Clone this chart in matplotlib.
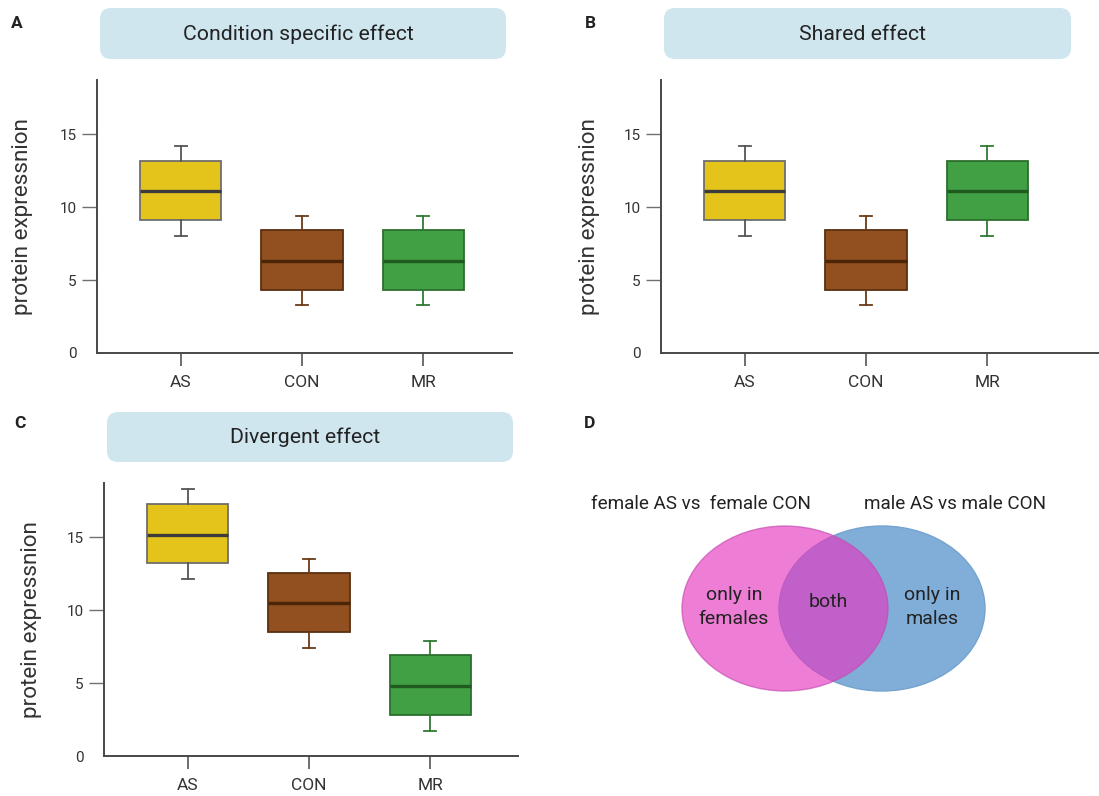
import matplotlib
matplotlib.use("Agg")
import matplotlib.pyplot as plt
from matplotlib.patches import FancyBboxPatch, Ellipse

plt.rcParams['font.family'] = ['Roboto', 'DejaVu Sans']

# data (summary stats)
groups = ['AS', 'CON', 'MR']

# A: condition specific effect
a_whislo = [8.0, 3.3, 3.3]
a_q1 = [9.1, 4.3, 4.3]
a_med = [11.1, 6.3, 6.3]
a_q3 = [13.15, 8.4, 8.4]
a_whishi = [14.2, 9.4, 9.4]

# B: shared effect
b_whislo = [8.0, 3.3, 8.0]
b_q1 = [9.1, 4.3, 9.1]
b_med = [11.1, 6.3, 11.1]
b_q3 = [13.15, 8.4, 13.15]
b_whishi = [14.2, 9.4, 14.2]

# C: divergent effect
c_whislo = [12.1, 7.4, 1.7]
c_q1 = [13.2, 8.5, 2.8]
c_med = [15.15, 10.5, 4.8]
c_q3 = [17.25, 12.55, 6.9]
c_whishi = [18.3, 13.5, 7.9]

yticks = [0, 5, 10, 15]

fills = ['#e4c31b', '#924f1f', '#41a043']
edges = ['#6e6e6e', '#5a2f10', '#2d6e2f']
whisk = ['#555555', '#6b3a16', '#2f7a31']
meds = ['#3c3c3c', '#4b2508', '#1f5a1f']

W, H = 1099, 796
fig = plt.figure(figsize=(W / 100, H / 100), dpi=100)

PX_PER_UNIT = 121.3  # x
YTOP = 18.7


def panel_axes(left, top, right, bottom):
    ax = fig.add_axes([left / W, 1 - bottom / H, (right - left) / W, (bottom - top) / H])
    ax.set_xlim(-0.69, -0.69 + (right - left) / PX_PER_UNIT)
    ax.set_ylim(0, YTOP)
    return ax


def draw_box(ax, whislo, q1, med, q3, whishi, label_x):
    stats = []
    for i in range(len(groups)):
        stats.append(dict(label=groups[i], whislo=whislo[i], q1=q1[i], med=med[i],
                          q3=q3[i], whishi=whishi[i], fliers=[]))
    art = ax.bxp(stats, positions=range(len(groups)), widths=0.67, capwidths=0.1,
                 patch_artist=True, showfliers=False)
    for i in range(len(groups)):
        art['boxes'][i].set(facecolor=fills[i], edgecolor=edges[i], linewidth=1.3)
        art['medians'][i].set(color=meds[i], linewidth=2.4)
        for ln in art['whiskers'][2 * i:2 * i + 2] + art['caps'][2 * i:2 * i + 2]:
            ln.set(color=whisk[i], linewidth=1.3)
    for s in ['top', 'right']:
        ax.spines[s].set_visible(False)
    for s in ['left', 'bottom']:
        ax.spines[s].set_color('#474747')
        ax.spines[s].set_linewidth(1.4)
    ax.set_yticks(yticks)
    ax.set_yticklabels([str(t) for t in yticks], fontsize=11, color='#333333')
    for lbl in ax.get_yticklabels():
        lbl.set_va('center_baseline')
    ax.tick_params(axis='y', length=11, width=1.0, color='#707070', pad=3.5)
    ax.tick_params(axis='x', length=9.5, width=1.1, color='#474747', pad=6.5, labelsize=12.5,
                   labelcolor='#333333')
    ax.yaxis.get_major_ticks()[0].tick1line.set_visible(False)
    ax.set_xticks(range(len(groups)))
    ax.set_xticklabels(groups)
    ax.set_ylabel('protein expressnion', fontsize=16.2, color='#333333')
    ax.yaxis.set_label_coords(label_x, 0.5)


def title_box(x0, y0, x1, y1, text, tx):
    box = FancyBboxPatch((x0 / 100, (H - y1) / 100), (x1 - x0) / 100, (y1 - y0) / 100,
                         boxstyle='round,pad=0,rounding_size=0.11',
                         transform=fig.dpi_scale_trans, facecolor='#cfe6ef',
                         edgecolor='none')
    fig.add_artist(box)
    fig.text(tx / W, 1 - ((y0 + y1) / 2 + 0.5) / H, text, fontsize=15.3, color='#222222',
             ha='center', va='center')


def panel_letter(x, y, s):
    fig.text(x / W, 1 - y / H, s, fontsize=12.5, fontweight='bold', color='#222222',
             ha='center', va='center')


ax_a = panel_axes(97, 80, 512, 353)
draw_box(ax_a, a_whislo, a_q1, a_med, a_q3, a_whishi, (33 - 97) / 415)
ax_b = panel_axes(661, 80, 1099, 353)
draw_box(ax_b, b_whislo, b_q1, b_med, b_q3, b_whishi, (600 - 661) / 438)
ax_c = panel_axes(104, 483, 518, 756)
draw_box(ax_c, c_whislo, c_q1, c_med, c_q3, c_whishi, (42 - 104) / 414)

title_box(100, 8, 506, 59, 'Condition specific effect', 298)
title_box(664, 8, 1071, 59, 'Shared effect', 862)
title_box(107, 412, 513, 462, 'Divergent effect', 305)

panel_letter(17, 23, 'A')
panel_letter(590, 23, 'B')
panel_letter(20, 423, 'C')
panel_letter(590, 423, 'D')

# D: venn diagram, drawn in panel pixel coordinates
ax_d = fig.add_axes([550 / W, 0, 549 / W, 396 / H])
ax_d.set_xlim(0, 549)
ax_d.set_ylim(396, 0)
ax_d.axis('off')
venn_cy, venn_w, venn_h = 208.5, 206, 165
ax_d.add_patch(Ellipse((332, venn_cy), venn_w, venn_h, facecolor='#80aed8',
                       edgecolor='#74a3cf', linewidth=1.0, zorder=1))
ax_d.add_patch(Ellipse((235, venn_cy), venn_w, venn_h, facecolor='#e537c0', alpha=0.65,
                       edgecolor='#c44aae', linewidth=1.0, zorder=2))
ax_d.text(151, 104, 'female AS vs  female CON', fontsize=13.6, color='#222222',
          ha='center', va='center')
ax_d.text(405, 104, 'male AS vs male CON', fontsize=13.6, color='#222222',
          ha='center', va='center')
ax_d.text(184, 207, 'only in\nfemales', fontsize=14, color='#222222', ha='center',
          va='center', zorder=3, linespacing=1.4)
ax_d.text(278, 202, 'both', fontsize=14, color='#222222', ha='center', va='center',
          zorder=3)
ax_d.text(382, 207, 'only in\nmales', fontsize=14, color='#222222', ha='center',
          va='center', zorder=3, linespacing=1.4)

fig.savefig('out.png', dpi=100)
